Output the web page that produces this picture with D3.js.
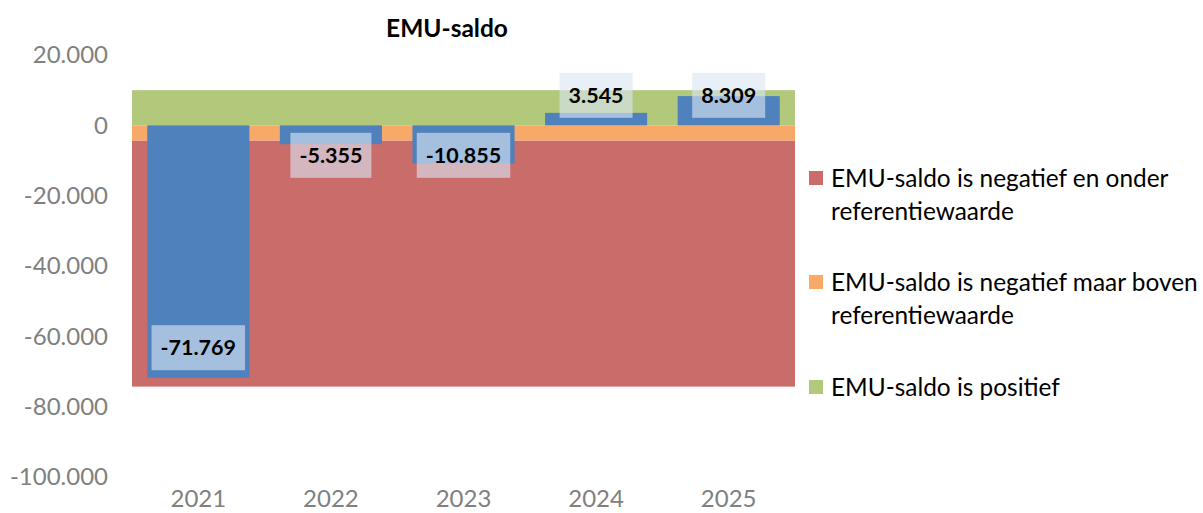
<!DOCTYPE html>
<html>
<head>
<meta charset="utf-8">
<script src="https://cdn.jsdelivr.net/npm/d3@7"></script>
<style>
  body { margin: 0; background: #fff; }
  text { font-family: Lato, "Liberation Sans", sans-serif; }
</style>
</head>
<body>
<script>
// Chart data
var years = ["2021", "2022", "2023", "2024", "2025"];
var saldo = [-71769, -5355, -10855, 3545, 8309];

// Background zones (stacked from 0 outwards)
var zoneNames = [
  "EMU-saldo is negatief en onder referentiewaarde",
  "EMU-saldo is negatief maar boven referentiewaarde",
  "EMU-saldo is positief"
];
var zoneSizes = [-70000, -4300, 10000];
var zoneColors = ["#CA6C6A", "#F8A968", "#B2C97B"];

var legendLines = [
  ["EMU-saldo is negatief en onder", "referentiewaarde"],
  ["EMU-saldo is negatief maar boven", "referentiewaarde"],
  ["EMU-saldo is positief"]
];

var yTicks = [20000, 0, -20000, -40000, -60000, -80000, -100000];

// SVG area
var svgWidth = 1203;
var svgHeight = 513;

var svg = d3.select("body")
  .append("svg")
  .attr("width", svgWidth)
  .attr("height", svgHeight);

// Scales
var xBandScale = d3.scaleBand()
  .domain(years)
  .range([132, 795])
  .paddingInner(0.23)
  .paddingOuter(0.115);

var yLinearScale = d3.scaleLinear()
  .domain([-100000, 20000])
  .range([477, 55]);

// Dutch number format: dot as thousands separator, plain hyphen as minus
var nl = d3.formatLocale({ decimal: ",", thousands: ".", grouping: [3], currency: ["€", ""], minus: "-" });
var fmt = nl.format(",d");

// Zones: orange sits on 0 going down, red below orange, green above 0
var zones = [
  { lo: zoneSizes[0] + zoneSizes[1], hi: zoneSizes[1] },
  { lo: zoneSizes[1], hi: 0 },
  { lo: 0, hi: zoneSizes[2] }
];
svg.append("g").selectAll("rect")
  .data(zones)
  .enter()
  .append("rect")
  .attr("x", xBandScale.range()[0])
  .attr("width", xBandScale.range()[1] - xBandScale.range()[0])
  .attr("y", d => yLinearScale(d.hi))
  .attr("height", d => yLinearScale(d.lo) - yLinearScale(d.hi))
  .attr("fill", (d, i) => zoneColors[i]);

// Bars
var y0 = yLinearScale(0);
svg.append("g").selectAll("rect")
  .data(saldo)
  .enter()
  .append("rect")
  .attr("x", (d, i) => xBandScale(years[i]))
  .attr("width", xBandScale.bandwidth())
  .attr("y", d => Math.min(yLinearScale(d), y0))
  .attr("height", d => Math.abs(yLinearScale(d) - y0))
  .attr("fill", "#4F81BD");

// Data labels (inside end, pushed back when the bar is too short)
var boxH = 45, gap = 7.5, padX = 9;
var labels = svg.append("g");
saldo.forEach(function(v, i) {
  var cx = xBandScale(years[i]) + xBandScale.bandwidth() / 2;
  var g = labels.append("g");
  var t = g.append("text")
    .attr("x", cx)
    .attr("text-anchor", "middle")
    .attr("font-size", "21.5px")
    .attr("font-weight", "bold")
    .attr("fill", "#000")
    .text(fmt(v));
  var w = t.node().getComputedTextLength() + 2 * padX;
  var top;
  if (v < 0) {
    top = Math.max(yLinearScale(v) - gap - boxH, y0 + gap);
  } else {
    top = Math.min(yLinearScale(v) + gap, y0 - gap - boxH);
  }
  g.insert("rect", "text")
    .attr("x", cx - w / 2)
    .attr("y", top)
    .attr("width", w)
    .attr("height", boxH)
    .attr("fill", "rgb(218,229,242)")
    .attr("fill-opacity", 0.62);
  t.attr("y", top + boxH / 2).attr("dy", "0.36em");
});

// Y axis labels
var leftAxis = d3.axisLeft(yLinearScale)
  .tickValues(yTicks)
  .tickFormat(fmt)
  .tickSize(0)
  .tickPadding(0);
var yAxis = svg.append("g")
  .attr("transform", "translate(108,0)")
  .call(leftAxis);
yAxis.select(".domain").remove();
yAxis.selectAll("text")
  .attr("font-family", "Lato, sans-serif")
  .attr("font-size", "24px")
  .attr("fill", "#808080");

// X axis labels
var bottomAxis = d3.axisBottom(xBandScale).tickSize(0).tickPadding(0);
var xAxis = svg.append("g")
  .attr("transform", "translate(0,490)")
  .call(bottomAxis);
xAxis.select(".domain").remove();
xAxis.selectAll("text")
  .attr("font-family", "Lato, sans-serif")
  .attr("font-size", "24px")
  .attr("fill", "#808080");

// Title
svg.append("text")
  .attr("x", 447)
  .attr("y", 37)
  .attr("text-anchor", "middle")
  .attr("font-size", "24.5px")
  .attr("font-weight", "bold")
  .attr("fill", "#000")
  .text("EMU-saldo");

// Legend
var legendY = [178, 282, 387];
var legend = svg.append("g");
zoneNames.forEach(function(name, i) {
  legend.append("rect")
    .attr("x", 809)
    .attr("y", legendY[i] - 7)
    .attr("width", 14)
    .attr("height", 14)
    .attr("fill", zoneColors[i]);
  legendLines[i].forEach(function(line, j) {
    legend.append("text")
      .attr("x", 831)
      .attr("y", legendY[i] + j * 33)
      .attr("dy", "0.36em")
      .attr("font-size", "24.4px")
      .attr("fill", "#000")
      .text(line);
  });
});
</script>
</body>
</html>
